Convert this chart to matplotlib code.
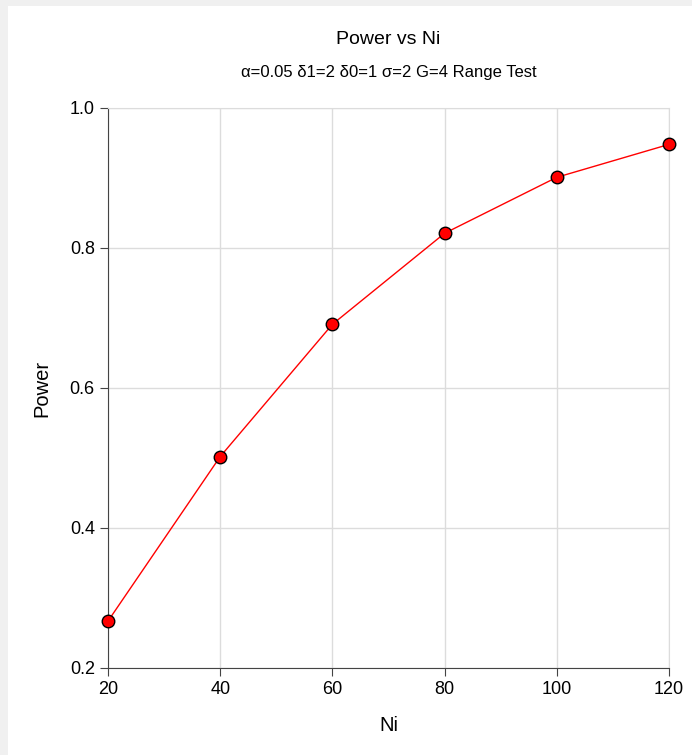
import matplotlib
matplotlib.use("Agg")
import matplotlib.pyplot as plt
from matplotlib.patches import Rectangle

plt.rcParams["font.family"] = ["Liberation Sans", "DejaVu Sans"]

# sample size per group and achieved power
ni = [20, 40, 60, 80, 100, 120]
power = [0.267, 0.502, 0.691, 0.821, 0.901, 0.948]

x_ticks = [20, 40, 60, 80, 100, 120]
y_ticks = [0.2, 0.4, 0.6, 0.8, 1.0]

W, H = 692, 755
fig = plt.figure(figsize=(W / 100, H / 100), dpi=100, facecolor="#f0f0f0")
# white panel, grey strip on top and left
fig.patches.append(Rectangle((8 / W, 0), 1, 1 - 6 / H, transform=fig.transFigure,
                             facecolor="white", edgecolor="none", zorder=-10))

ax = fig.add_axes([108 / W, 1 - 668 / H, (669 - 108) / W, (668 - 108) / H])
ax.set_zorder(1)
ax.set_facecolor("white")

ax.plot(ni, power, color="red", lw=1, marker="o", ms=9,
        markerfacecolor="red", markeredgecolor="black", markeredgewidth=1,
        zorder=3, clip_on=False)

ax.set_xlim(20, 120)
ax.set_ylim(0.2, 1.0)
ax.set_xticks(x_ticks)
ax.set_yticks(y_ticks)
ax.set_xticklabels([str(v) for v in x_ticks])
ax.set_yticklabels(["%.1f" % v for v in y_ticks])

ax.grid(True, color="#dcdcdc", lw=1)
ax.set_axisbelow(True)
for s in ["top", "right"]:
    ax.spines[s].set_color("#dcdcdc")
for s in ["left", "bottom"]:
    ax.spines[s].set_color("#444444")
ax.tick_params(axis="both", labelsize=13, colors="#444444", labelcolor="black",
               length=6, direction="out")

ax.set_xlabel("Ni", fontsize=14.5, labelpad=13)
ax.set_ylabel("Power", fontsize=14.5, labelpad=13)

fig.text((108 + 669) / 2 / W, 1 - 40 / H, "Power vs Ni", fontsize=14,
         ha="center", va="center", zorder=5)
fig.text((108 + 669) / 2 / W, 1 - 72 / H, "α=0.05 δ1=2 δ0=1 σ=2 G=4 Range Test",
         fontsize=12, ha="center", va="center", zorder=5)

fig.savefig("out.png", dpi=100, facecolor=fig.get_facecolor())
